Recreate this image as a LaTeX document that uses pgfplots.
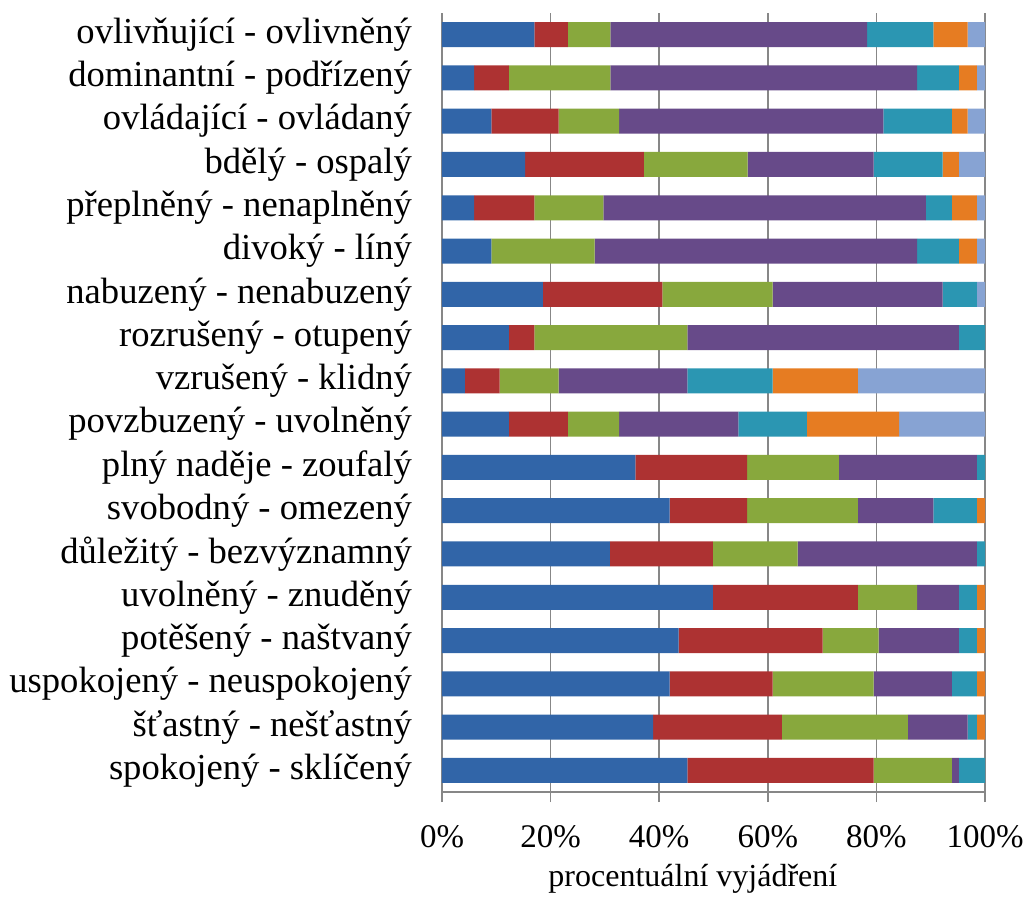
\documentclass[border=0pt]{standalone}
\usepackage{fontspec}
\setmainfont{Liberation Serif}
\usepackage{pgfplots}
\usepackage{pgfplotstable}
\pgfplotsset{compat=1.18}
\definecolor{cA}{HTML}{3165A8}
\definecolor{cB}{HTML}{AD3232}
\definecolor{cC}{HTML}{88A83D}
\definecolor{cD}{HTML}{674A89}
\definecolor{cE}{HTML}{2B96B2}
\definecolor{cF}{HTML}{E67C22}
\definecolor{cG}{HTML}{87A3D3}
\definecolor{gridgray}{HTML}{878787}
\pgfplotstableread{
y a b c d e f g
0 45.2 34.3 14.4 1.3 4.8 0 0
1 38.9 23.7 23.2 11.0 1.7 1.5 0
2 41.9 19.0 18.6 14.4 4.6 1.5 0
3 43.6 26.5 10.3 14.8 3.3 1.5 0
4 49.9 26.7 10.9 7.7 3.3 1.5 0
5 30.9 19.0 15.6 33.0 1.5 0 0
6 41.9 14.3 20.4 13.9 8.0 1.5 0
7 35.6 20.6 16.9 25.4 1.5 0 0
8 12.3 10.9 9.4 22.0 12.6 17.0 15.8
9 4.2 6.4 10.9 23.7 15.7 15.7 23.4
10 12.3 4.7 28.2 50.0 4.8 0 0
11 18.6 22.0 20.3 31.3 6.3 0 1.5
12 9.1 0 19.0 59.4 7.7 3.3 1.5
13 5.9 11.1 12.7 59.4 4.8 4.6 1.5
14 15.3 21.9 19.1 23.2 12.7 3.0 4.8
15 9.1 12.4 11.1 48.7 12.6 2.9 3.2
16 5.9 6.4 18.7 56.5 7.7 3.3 1.5
17 17.0 6.2 7.8 47.3 12.2 6.3 3.2
}\datatable
\begin{document}
\begin{tikzpicture}
\useasboundingbox (-221pt,-52pt) rectangle (295pt,396pt);
\begin{axis}[
  at={(0,0)}, anchor=south west,
  scale only axis,
  width=271.5pt, height=389.5pt,
  xbar stacked,
  bar width=12.5pt,
  xmin=0, xmax=100,
  ymin=-0.5, ymax=17.5,
  axis x line*=bottom,
  axis y line*=left,
  axis line style={gridgray, line width=0.9pt, -},
  xtick={0,20,40,60,80,100},
  xticklabels={0\%,20\%,40\%,60\%,80\%,100\%},
  xmajorgrids,
  major grid style={gridgray, line width=0.9pt},
  x tick style={gridgray, line width=0.9pt},
  tick align=outside,
  major tick length=5pt,
  ytick={0,...,17},
  yticklabels={spokojený - sklíčený, šťastný - nešťastný, uspokojený - neuspokojený, potěšený - naštvaný, uvolněný - znuděný, důležitý - bezvýznamný, svobodný - omezený, plný naděje - zoufalý, povzbuzený - uvolněný, vzrušený - klidný, rozrušený - otupený, nabuzený - nenabuzený, divoký - líný, přeplněný - nenaplněný, bdělý - ospalý, ovládající - ovládaný, dominantní - podřízený, ovlivňující - ovlivněný},
  y tick style={draw=none},
  minor ytick={-0.5,0.5,...,17.5},
  minor y tick style={gridgray, line width=0.9pt},
  minor tick length=5pt,
  yticklabel style={font=\fontsize{18.3}{20}\selectfont, xshift=-6.5pt},
  xticklabel style={font=\fontsize{16.5}{19}\selectfont, anchor=base, yshift=-22.5pt},
  xlabel={procentuální vyjádření},
  xlabel style={font=\fontsize{16}{19}\selectfont, at={(axis description cs:0.462,0)}, anchor=base, yshift=-47pt},
  every axis plot/.append style={draw=none},
]
\addplot[fill=cA] table[x=a,y=y]{\datatable};
\addplot[fill=cB] table[x=b,y=y]{\datatable};
\addplot[fill=cC] table[x=c,y=y]{\datatable};
\addplot[fill=cD] table[x=d,y=y]{\datatable};
\addplot[fill=cE] table[x=e,y=y]{\datatable};
\addplot[fill=cF] table[x=f,y=y]{\datatable};
\addplot[fill=cG] table[x=g,y=y]{\datatable};
\end{axis}
\end{tikzpicture}
\end{document}
